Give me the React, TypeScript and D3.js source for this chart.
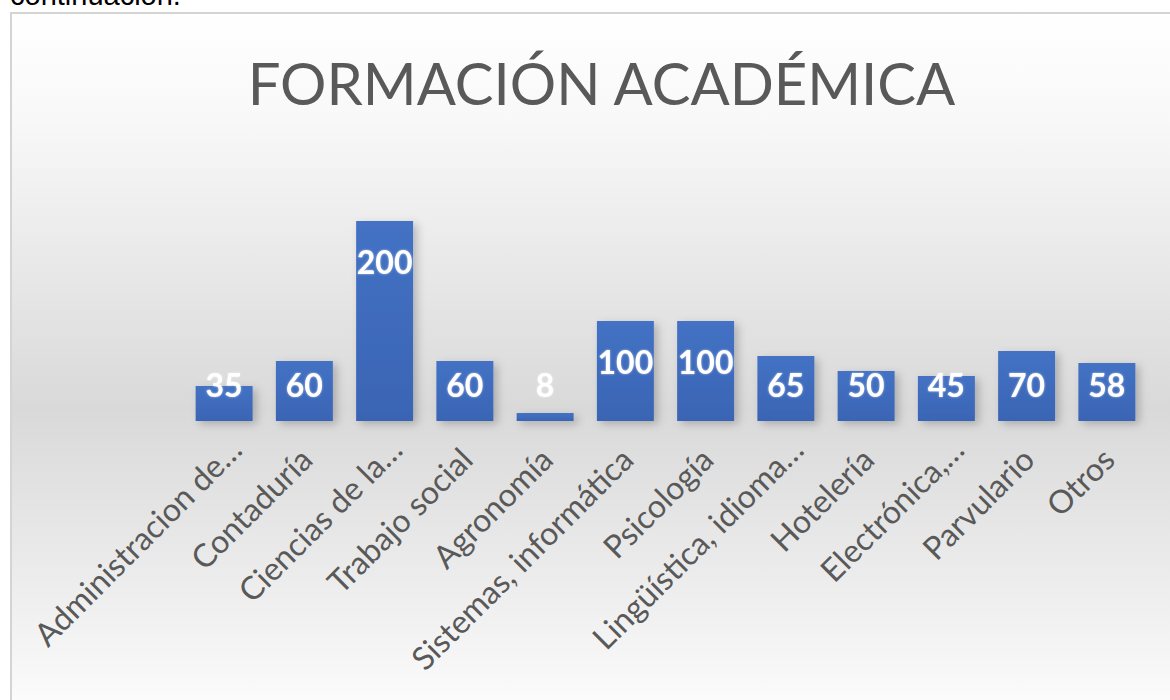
import React from "react";
import * as d3 from "d3";

const categories = [
  "Administracion de…",
  "Contaduría",
  "Ciencias de la…",
  "Trabajo social",
  "Agronomía",
  "Sistemas, informática",
  "Psicología",
  "Lingüística, idioma…",
  "Hotelería",
  "Electrónica,…",
  "Parvulario",
  "Otros",
];
const values = [35, 60, 200, 60, 8, 100, 100, 65, 50, 45, 70, 58];
const title = "FORMACIÓN ACADÉMICA";

const W = 1170;
const H = 700;
const baseline = 421;

export default function App() {
  const x = d3
    .scaleBand<string>()
    .domain(categories)
    .range([184, 1147])
    .paddingInner(0.29)
    .paddingOuter(0.145);
  const y = d3.scaleLinear().domain([0, 200]).range([baseline, 221]);

  return (
    <svg
      width={W}
      height={H}
      style={{ position: "absolute", left: 0, top: 0 }}
      fontFamily="Lato, 'Open Sans', sans-serif"
    >
      <defs>
        <linearGradient id="bg" x1="0" y1="0" x2="0" y2="1">
          <stop offset="0" stopColor="#ffffff" />
          <stop offset="0.15" stopColor="#f8f8f8" />
          <stop offset="0.55" stopColor="#d9d9d9" />
          <stop offset="0.82" stopColor="#efefef" />
          <stop offset="1" stopColor="#ffffff" />
        </linearGradient>
        <linearGradient id="bar" x1="0" y1="0" x2="0" y2="1">
          <stop offset="0" stopColor="#4472c4" />
          <stop offset="1" stopColor="#3a64b4" />
        </linearGradient>
        <filter id="shadow" x="-20%" y="-20%" width="150%" height="150%">
          <feDropShadow dx="4" dy="3" stdDeviation="4" floodColor="#000" floodOpacity="0.22" />
        </filter>
        <filter id="glow" x="-20%" y="-20%" width="140%" height="140%">
          <feDropShadow dx="0" dy="0" stdDeviation="1.2" floodColor="#ffffff" floodOpacity="0.6" />
        </filter>
      </defs>
      <rect x={0} y={0} width={W} height={H} fill="#ffffff" />
      <text x={10} y={5} fontFamily="'Liberation Sans', Arial, sans-serif" fontSize={29} fill="#000">
        continuación.
      </text>
      <rect x={11} y={13} width={W + 20} height={H + 20} fill="url(#bg)" stroke="#d4d4d4" strokeWidth={2} />
      <text x={601.5} y={105} textAnchor="middle" fontSize={58} fill="#595959">
        {title}
      </text>
      <g filter="url(#shadow)">
        {categories.map((c, i) => (
          <rect
            key={c}
            x={x(c)}
            y={y(values[i])}
            width={x.bandwidth()}
            height={baseline - y(values[i])}
            fill="url(#bar)"
          />
        ))}
      </g>
      <g filter="url(#glow)">
        {categories.map((c, i) => (
          <text
            key={c}
            x={(x(c) as number) + x.bandwidth() / 2}
            y={Math.min(y(values[i]) + 40, 384)}
            textAnchor="middle"
            dominantBaseline="central"
            fontSize={32}
            fontWeight={700}
            fill="#ffffff"
          >
            {values[i]}
          </text>
        ))}
      </g>
      <g>
        {categories.map((c) => {
          const cx = (x(c) as number) + x.bandwidth() / 2;
          const extra = c.endsWith("…") ? 14 : 0;
          return (
            <text
              key={c}
              transform={`translate(${cx + 10},${baseline + 41}) rotate(-45)`}
              x={extra}
              textAnchor="end"
              fontSize={32}
              fill="#595959"
            >
              {c}
            </text>
          );
        })}
      </g>
    </svg>
  );
}
